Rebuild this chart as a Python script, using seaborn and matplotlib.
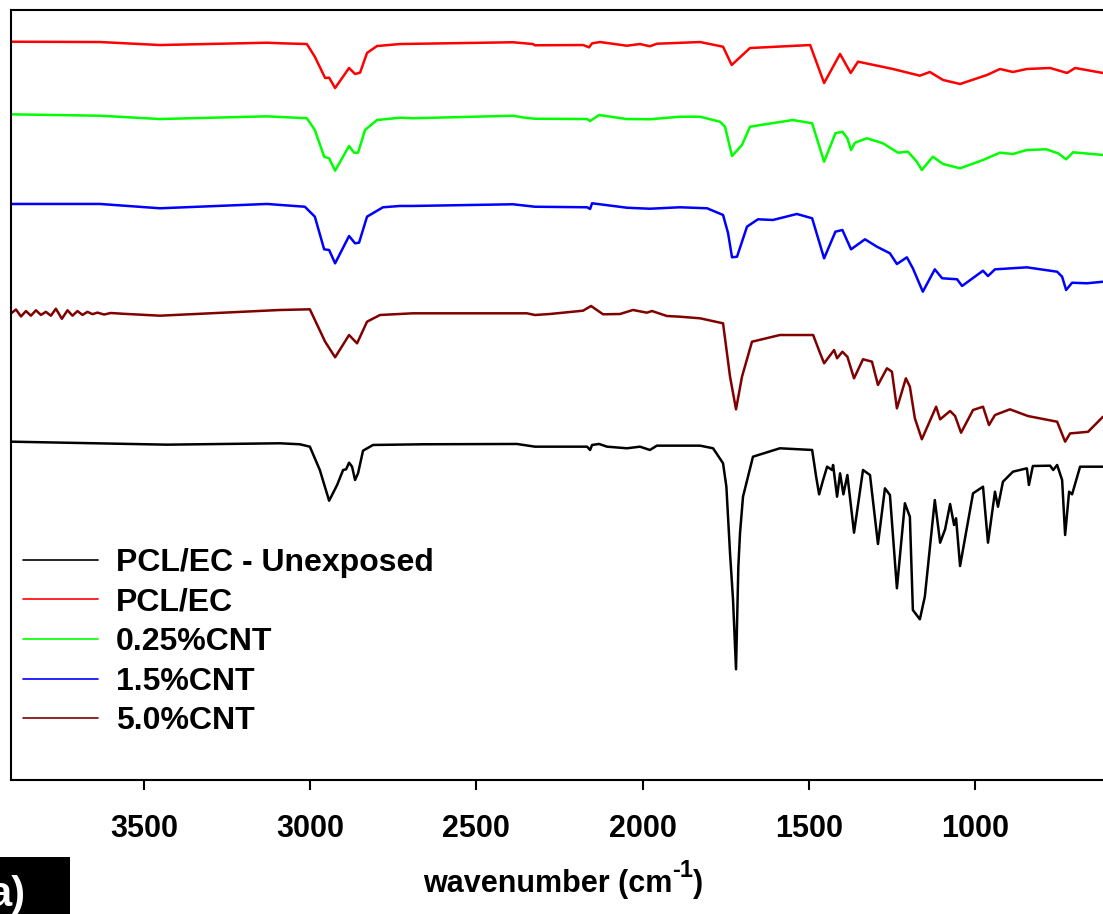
"""FTIR spectra of PCL/EC films with CNT loadings"""

import numpy as np
import pandas as pd
import matplotlib
matplotlib.use("Agg")
import matplotlib.pyplot as plt
import seaborn as sns
from matplotlib.patches import Rectangle
from matplotlib.transforms import offset_copy

# wavenumber (cm-1) / transmittance (a.u., offset)
WN_UNEXP = [3900, 3431, 3091, 3031, 3001, 2971, 2943, 2919, 2901, 2892, 2883, 2874, 2865,
            2856, 2841, 2811, 2661, 2378, 2324, 2167, 2158, 2152, 2131, 2107, 2047, 2008,
            1978, 1957, 1827, 1788, 1758, 1748, 1737, 1728, 1719, 1712, 1707, 1698, 1668,
            1587, 1490, 1478, 1469, 1457, 1445, 1430, 1427, 1415, 1406, 1396, 1384, 1364,
            1337, 1316, 1292, 1271, 1256, 1235, 1211, 1196, 1187, 1166, 1151, 1121, 1105,
            1090, 1075, 1063, 1057, 1045, 1006, 976, 961, 940, 931, 916, 886, 844, 838, 826,
            774, 765, 753, 738, 729, 717, 708, 684, 615]
T_UNEXP = [43.94, 43.55, 43.73, 43.60, 43.29, 40.26, 36.27, 38.31, 40.26, 40.35, 41.21, 40.69,
           38.96, 39.83, 42.77, 43.51, 43.60, 43.64, 43.29, 43.29, 42.86, 43.51, 43.64, 43.29,
           43.08, 43.29, 42.86, 43.42, 43.42, 43.08, 41.13, 38.09, 29.44, 23.40, 14.38, 27.70,
           32.04, 36.79, 41.99, 43.08, 42.86, 39.39, 37.10, 38.96, 40.69, 40.26, 40.91, 36.79,
           39.83, 37.10, 39.61, 32.12, 40.26, 39.61, 30.65, 37.88, 37.01, 24.90, 35.94, 34.19,
           22.08, 20.87, 23.81, 36.36, 30.82, 32.56, 35.84, 33.12, 33.99, 27.79, 37.23, 38.09,
           30.82, 37.44, 35.49, 38.74, 40.04, 40.48, 38.31, 40.78, 40.82, 40.26, 40.91, 38.96,
           31.82, 37.44, 37.10, 40.69, 40.69]

WN_PCLEC = [3900, 3632, 3452, 3130, 3091, 3010, 2986, 2955, 2943, 2925, 2883, 2865, 2850, 2829,
            2799, 2730, 2390, 2330, 2324, 2179, 2161, 2152, 2128, 2047, 2008, 1978, 1957, 1827,
            1758, 1732, 1677, 1496, 1454, 1406, 1374, 1352, 1247, 1166, 1136, 1096, 1045, 964,
            925, 886, 844, 774, 723, 699, 615]
T_PCLEC = [95.88, 95.84, 95.45, 95.75, 95.68, 95.58, 93.93, 91.17, 91.21, 89.87, 92.47, 91.69,
           91.86, 94.42, 95.32, 95.58, 95.81, 95.58, 95.42, 95.45, 95.15, 95.67, 95.84, 95.36,
           95.58, 95.29, 95.62, 95.84, 95.23, 92.86, 95.06, 95.45, 90.52, 94.29, 91.82, 93.29,
           92.34, 91.47, 91.95, 90.91, 90.39, 91.56, 92.34, 91.95, 92.34, 92.47, 91.82, 92.47,
           91.82]

WN_CNT025 = [3900, 3632, 3452, 3130, 3010, 2986, 2958, 2943, 2925, 2883, 2868, 2856, 2835,
             2799, 2730, 2691, 2390, 2354, 2324, 2167, 2158, 2131, 2047, 1978, 1888, 1827,
             1767, 1752, 1731, 1701, 1677, 1626, 1548, 1490, 1454, 1420, 1399, 1384, 1373,
             1361, 1325, 1277, 1232, 1202, 1175, 1160, 1127, 1096, 1045, 976, 925, 886, 844,
             786, 750, 726, 705, 615]
T_CNT025 = [86.45, 86.27, 85.84, 86.19, 85.94, 84.42, 80.95, 80.74, 79.13, 82.34, 81.47, 81.47,
            84.42, 85.71, 86.01, 85.94, 86.27, 86.01, 85.88, 85.84, 85.58, 86.36, 85.84, 85.81,
            86.14, 86.14, 85.49, 84.84, 81.04, 82.47, 84.84, 85.19, 85.71, 85.29, 80.30, 83.99,
            84.19, 83.34, 81.82, 82.77, 83.34, 82.69, 81.47, 81.60, 80.30, 79.22, 80.95, 80.00,
            79.44, 80.52, 81.47, 81.30, 81.82, 81.91, 81.39, 80.61, 81.52, 81.17]

WN_CNT15 = [3900, 3632, 3452, 3130, 3016, 2986, 2958, 2943, 2925, 2883, 2865, 2853, 2829, 2781,
            2730, 2691, 2390, 2324, 2167, 2158, 2152, 2047, 1978, 1888, 1806, 1758, 1743, 1731,
            1716, 1686, 1653, 1608, 1536, 1490, 1454, 1420, 1399, 1373, 1331, 1295, 1256, 1235,
            1205, 1187, 1157, 1121, 1099, 1054, 1039, 976, 961, 940, 844, 753, 738, 726, 708,
            663, 615]
T_CNT15 = [74.81, 74.81, 74.25, 74.81, 74.45, 73.16, 68.92, 68.83, 67.10, 70.65, 69.70, 69.78,
           73.16, 74.38, 74.55, 74.55, 74.77, 74.45, 74.38, 74.16, 74.90, 74.32, 74.19, 74.38,
           74.25, 73.38, 71.04, 67.88, 67.96, 71.86, 72.82, 72.73, 73.51, 72.95, 67.75, 71.21,
           71.43, 68.92, 70.22, 69.26, 68.40, 67.01, 67.88, 66.45, 63.42, 66.32, 65.16, 65.03,
           64.16, 66.14, 65.45, 66.32, 66.58, 66.01, 65.36, 63.64, 64.58, 64.51, 64.71]

WN_CNT50 = [3900, 3885, 3870, 3855, 3840, 3825, 3810, 3795, 3780, 3765, 3747, 3730, 3715,
            3700, 3685, 3670, 3655, 3640, 3620, 3600, 3563, 3452, 3091, 3001, 2955, 2925, 2883,
            2859, 2829, 2790, 2691, 2348, 2324, 2279, 2179, 2155, 2119, 2068, 2029, 1987, 1972,
            1927, 1888, 1827, 1758, 1737, 1719, 1701, 1671, 1587, 1487, 1466, 1454, 1424, 1415,
            1399, 1384, 1364, 1337, 1310, 1292, 1265, 1250, 1235, 1208, 1196, 1181, 1160, 1117,
            1105, 1075, 1060, 1042, 1006, 976, 958, 940, 895, 841, 753, 729, 714, 660, 615]
T_CNT50 = [60.60, 61.10, 60.20, 60.90, 60.30, 61.00, 60.40, 60.80, 60.30, 61.20, 59.90, 61.00,
           60.30, 60.90, 60.40, 60.80, 60.50, 60.70, 60.45, 60.65, 60.55, 60.30, 61.04, 61.13,
           56.92, 54.90, 57.79, 56.71, 59.52, 60.39, 60.61, 60.61, 60.39, 60.52, 60.95, 61.56,
           60.48, 60.52, 61.04, 60.69, 60.91, 60.26, 60.17, 59.96, 59.31, 52.38, 48.14, 52.38,
           56.92, 57.79, 57.79, 55.42, 54.12, 55.84, 54.77, 55.62, 54.97, 52.17, 54.64, 54.33,
           51.30, 53.47, 53.03, 48.27, 52.17, 51.08, 46.97, 44.25, 48.48, 46.84, 47.92, 47.27,
           45.10, 48.05, 48.48, 46.10, 47.40, 48.14, 47.27, 46.53, 43.94, 45.01, 45.22, 47.18]

SAMPLES = ["PCL/EC - Unexposed", "PCL/EC", "0.25%CNT", "1.5%CNT", "5.0%CNT"]
COLORS = ["#000000", "#FF0000", "#00FF00", "#0000FF", "#800000"]
XTICKS = [3500, 3000, 2500, 2000, 1500, 1000]

series = [(WN_UNEXP, T_UNEXP), (WN_PCLEC, T_PCLEC), (WN_CNT025, T_CNT025),
          (WN_CNT15, T_CNT15), (WN_CNT50, T_CNT50)]
df = pd.concat([pd.DataFrame({"wn": w, "T": t, "sample": s})
                for s, (w, t) in zip(SAMPLES, series)], ignore_index=True)

sns.set_style("ticks")
plt.rcParams["font.family"] = ["Liberation Sans", "DejaVu Sans"]
plt.rcParams["font.weight"] = "bold"
for key in ["text.color", "axes.labelcolor", "xtick.color", "ytick.color", "axes.edgecolor"]:
    plt.rcParams[key] = "black"

W, H = 1103, 914
fig = plt.figure(figsize=(W / 100, H / 100), dpi=100)
ax = fig.add_axes([11 / W, 134 / H, 1097 / W, 770 / H])

sns.lineplot(data=df, x="wn", y="T", hue="sample", hue_order=SAMPLES,
             palette=COLORS, estimator=None, linewidth=1.8, ax=ax)

ax.set_xlim(3900, 600)
ax.set_ylim(0, 100)
ax.set_xticks(XTICKS)
ax.set_yticks([])
ax.set_xlabel("")
ax.set_ylabel("")
for sp in ax.spines.values():
    sp.set_linewidth(1.5)
ax.tick_params(axis="x", direction="out", length=7.5, width=1.5, pad=17,
               labelsize=22, colors="black")
for lab in ax.get_xticklabels():
    lab.set_fontweight("bold")

# x label built in pieces so the superscript keeps a plain hyphen
t1 = fig.text(423 / W, (H - 892) / H, "wavenumber (cm", ha="left", va="baseline",
              fontsize=22, fontweight="bold")
fig.canvas.draw()
r = fig.canvas.get_renderer()
bb = t1.get_window_extent(r)
t2 = fig.text(bb.x1 / W, (H - 877) / H, "-1", ha="left", va="baseline",
              fontsize=17, fontweight="bold")
bb2 = t2.get_window_extent(r)
fig.text(bb2.x1 / W, (H - 892) / H, ")", ha="left", va="baseline",
         fontsize=22, fontweight="bold")

leg = ax.legend(loc="upper left", bbox_to_anchor=(23 / W, (H - 548) / H),
                bbox_transform=fig.transFigure, frameon=False, borderpad=0,
                borderaxespad=0, handlelength=2.35, handletextpad=0.55,
                labelspacing=0.3, prop={"size": 23, "weight": "bold"})
for line in leg.get_lines():
    line.set_linewidth(1.2)

# panel tag in the lower-left corner
fig.patches.append(Rectangle((0, 0), 70 / W, 57 / H, transform=fig.transFigure,
                             facecolor="black", edgecolor="none"))
fig.text(26 / W, (H - 906) / H, "a)", ha="right", va="baseline",
         fontsize=30, fontweight="bold", color="white")

fig.savefig("out.png", dpi=100)
